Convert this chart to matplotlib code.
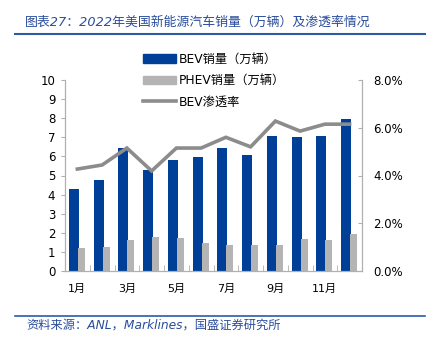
import matplotlib.pyplot as plt
from matplotlib.lines import Line2D
from matplotlib.patches import Patch
import matplotlib.ticker as ticker
import numpy as np

plt.rcParams["font.family"] = ["DejaVu Sans", "Noto Sans CJK SC"]

months = ["1月", "2月", "3月", "4月", "5月", "6月", "7月", "8月", "9月", "10月", "11月", "12月"]
bev_sales = [4.3, 4.75, 6.45, 5.3, 5.8, 5.97, 6.45, 6.05, 7.05, 7.0, 7.05, 7.97]
phev_sales = [1.2, 1.25, 1.6, 1.78, 1.72, 1.45, 1.35, 1.35, 1.35, 1.7, 1.6, 1.95]
bev_rate = [4.27, 4.44, 5.15, 4.19, 5.15, 5.15, 5.6, 5.2, 6.28, 5.86, 6.15, 6.15]  # %

BLUE = "#003f98"
GREY_BAR = "#b4b4b4"
GREY_LINE = "#8c8c8c"
TITLE_BLUE = "#2a4d9c"
AXIS_GREY = "#b0b0b0"

fig = plt.figure(figsize=(4.34, 3.45), dpi=100)
ax = fig.add_axes([65 / 434, 74 / 345, 297 / 434, 191 / 345])
ax2 = ax.twinx()

x = np.arange(len(months))
ax.bar(x - 0.14, bev_sales, width=0.4, color=BLUE, zorder=2)
ax.bar(x + 0.16, phev_sales, width=0.28, color=GREY_BAR, zorder=3)
ax2.plot(x, bev_rate, color=GREY_LINE, linewidth=2.6, solid_joinstyle="miter")

ax.set_xlim(-0.5, len(months) - 0.5)
ax.set_ylim(0, 10)
ax.set_yticks(range(0, 11))
ax2.set_ylim(0, 8)
ax2.set_yticks([0, 2, 4, 6, 8])
ax2.yaxis.set_major_formatter(ticker.FuncFormatter(lambda v, _: f"{v:.1f}%"))

ax.set_xticks(x[::2])
ax.set_xticklabels(months[::2])
ax.set_xticks(np.arange(-0.5, len(months)), minor=True)
ax.tick_params(axis="x", which="major", length=0, pad=9, labelsize=8)
ax.tick_params(axis="x", which="minor", length=4, direction="in", color=AXIS_GREY)
ax.tick_params(axis="y", length=3, color=AXIS_GREY, labelsize=8.5, pad=4)
ax2.tick_params(axis="y", length=3, direction="in", color=AXIS_GREY, labelsize=8.5, pad=8)

for a in (ax, ax2):
    a.spines["top"].set_visible(False)
    for s in ("left", "right", "bottom"):
        a.spines[s].set_color(AXIS_GREY)
        a.spines[s].set_linewidth(0.8)

handles = [
    Patch(color=BLUE, label="BEV销量（万辆）"),
    Patch(color=GREY_BAR, label="PHEV销量（万辆）"),
    Line2D([], [], color=GREY_LINE, linewidth=2.6, label="BEV渗透率"),
]
fig.legend(handles=handles, loc="upper left", bbox_to_anchor=(132 / 434, 1 - 42 / 345),
           frameon=False, fontsize=8.8, handlelength=2.7, handletextpad=0.25,
           labelspacing=0.68)

# title and source with rules
fig.text(25 / 434, 1 - 22 / 345, "图表27：2022年美国新能源汽车销量（万辆）及渗透率情况",
         color=TITLE_BLUE, fontsize=9.3, style="italic", va="center")
fig.add_artist(Line2D([15 / 434, 425 / 434], [1 - 34 / 345] * 2, color="#2e5aa8", linewidth=1.5))
fig.add_artist(Line2D([15 / 434, 425 / 434], [1 - 316 / 345] * 2, color="#2e5aa8", linewidth=1.2))
fig.text(26 / 434, 1 - 325 / 345, "资料来源：ANL，Marklines，国盛证券研究所",
         color=TITLE_BLUE, fontsize=8.8, style="italic", va="center")

fig.savefig("out.png", dpi=100)
